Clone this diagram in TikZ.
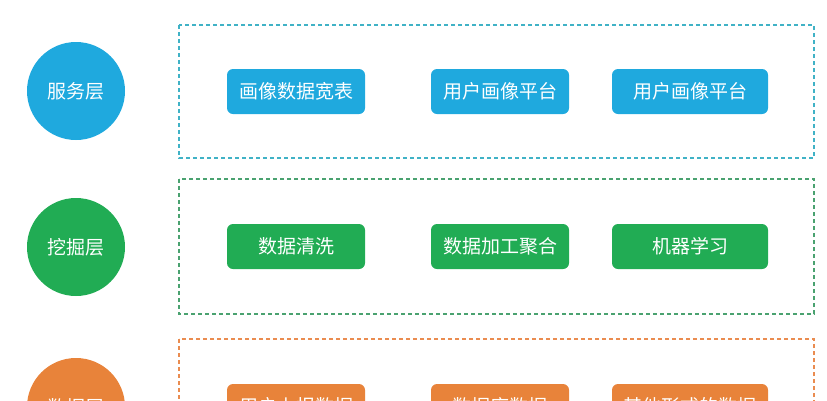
\documentclass[tikz,border=0pt]{standalone}
\usepackage{fontspec}
\usepackage{xcolor}
\newfontfamily\cjk{Noto Sans CJK SC}

\definecolor{svcblue}{RGB}{31,169,222}
\definecolor{minegreen}{RGB}{33,172,84}
\definecolor{dataorange}{RGB}{232,131,58}
\definecolor{svcframe}{RGB}{64,178,198}
\definecolor{mineframe}{RGB}{74,162,112}
\definecolor{dataframe}{RGB}{234,140,80}

\begin{document}
\begin{tikzpicture}[x=1pt,y=-1pt,
    layer/.style={circle,fill=#1,minimum size=98pt,inner sep=0pt,text=white,font=\cjk\fontsize{19}{23}\selectfont},
    item/.style={rectangle,rounded corners=6pt,fill=#1,minimum height=45pt,inner sep=0pt,text=white,font=\cjk\fontsize{19}{23}\selectfont},
    frame/.style={draw=#1,line width=1.2pt,dash pattern=on 4pt off 3pt}]
            \useasboundingbox (0,0) rectangle (827,400);
            \clip (0,0) rectangle (827,400);
            % service layer
            \node (svc) at (76,91) [layer=svcblue] {服务层};
            \draw[frame=svcframe] (179,25) rectangle (814,158);
            \node (svc1) at (296,91.5) [item=svcblue,minimum width=138pt] {画像数据宽表};
            \node (svc2) at (500,91.5) [item=svcblue,minimum width=138pt] {用户画像平台};
            \node (svc3) at (690,91.5) [item=svcblue,minimum width=156pt] {用户画像平台};
            % mining layer
            \node (mine) at (76,247) [layer=minegreen] {挖掘层};
            \draw[frame=mineframe] (179,179) rectangle (814,314);
            \node (mine1) at (296,246.5) [item=minegreen,minimum width=138pt] {数据清洗};
            \node (mine2) at (500,246.5) [item=minegreen,minimum width=138pt] {数据加工聚合};
            \node (mine3) at (690,246.5) [item=minegreen,minimum width=156pt] {机器学习};
            % data layer
            \node (data) at (76,407) [layer=dataorange] {数据层};
            \draw[frame=dataframe] (179,339) rectangle (814,474);
            \node (data1) at (296,406.5) [item=dataorange,minimum width=138pt] {用户上报数据};
            \node (data2) at (500,406.5) [item=dataorange,minimum width=138pt] {数据库数据};
            \node (data3) at (690,406.5) [item=dataorange,minimum width=156pt] {其他形式的数据};
        \end{tikzpicture}
\end{document}
